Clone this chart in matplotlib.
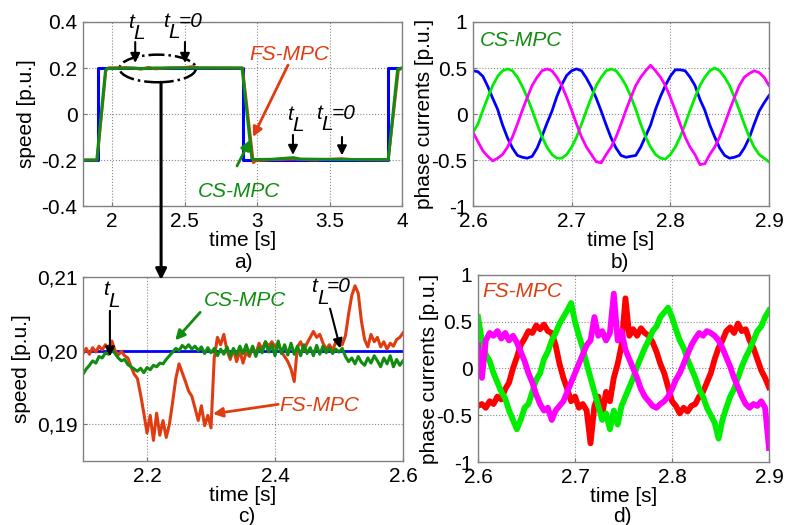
import numpy as np
import matplotlib.pyplot as plt
from matplotlib.patches import Ellipse

plt.rcParams['font.family'] = ['Liberation Sans', 'DejaVu Sans']
plt.rcParams['font.size'] = 15

# Colours used for the two controllers and the three phases
C_REF = '#0000FF'
C_FS = '#E03C12'
C_CS = '#118C11'
C_A = '#FF0000'
C_B = '#00EE00'
C_C = '#FF00FF'

# a) speed transient, reference and measured speeds
ta_ref = [1.8, 1.9, 1.9, 2.9, 2.9, 3.9, 3.9, 4.0]
wa_ref = [-0.2, -0.2, 0.2, 0.2, -0.2, -0.2, 0.2, 0.2]
ta_fs = [1.8, 1.897, 1.958, 1.975, 2.1, 2.16, 2.2, 2.25, 2.3, 2.4, 2.5, 2.55, 2.6, 2.9,
         2.975, 2.99, 3.1, 3.25, 3.4, 3.58, 3.7, 3.905, 3.975, 4.0]
wa_fs = [-0.2, -0.2, 0.19, 0.201, 0.202, 0.198, 0.195, 0.203, 0.196, 0.201, 0.202, 0.206, 0.201, 0.2,
         -0.212, -0.203, -0.199, -0.196, -0.2, -0.194, -0.199, -0.2, 0.19, 0.2]
ta_cs = [1.8, 1.895, 1.955, 1.97, 2.1, 2.15, 2.2, 2.3, 2.5, 2.6, 2.897, 2.965, 2.98, 3.1,
         3.25, 3.3, 3.6, 3.905, 3.97, 4.0]
wa_cs = [-0.2, -0.2, 0.19, 0.198, 0.199, 0.2, 0.197, 0.2, 0.2, 0.2, 0.2, -0.195, -0.198, -0.197,
         -0.19, -0.196, -0.198, -0.198, 0.195, 0.2]

# b) CS-MPC phase currents, sampled every 5 ms from 2.600 s
ib_a = [0.47, 0.46, 0.41, 0.30, 0.17, 0.05, -0.12, -0.26, -0.37, -0.45, -0.47, -0.48, -0.46, -0.37, -0.24,
        -0.10, 0.03, 0.19, 0.32, 0.42, 0.47, 0.49, 0.47, 0.39, 0.29, 0.17, 0.03, -0.12, -0.26, -0.37,
        -0.45, -0.47, -0.46, -0.45, -0.36, -0.24, -0.12, 0.05, 0.19, 0.31, 0.41, 0.48, 0.48, 0.47, 0.40,
        0.31, 0.16, 0.04, -0.12, -0.25, -0.37, -0.45, -0.48, -0.47, -0.45, -0.37, -0.26, -0.11, 0.03,
        0.12, 0.20]
ib_b = [-0.20, -0.11, 0.04, 0.18, 0.31, 0.41, 0.47, 0.49, 0.47, 0.40, 0.30, 0.18, 0.04, -0.11, -0.25,
        -0.36, -0.44, -0.48, -0.48, -0.44, -0.36, -0.25, -0.11, 0.04, 0.18, 0.31, 0.40, 0.47, 0.49,
        0.47, 0.40, 0.31, 0.19, 0.05, -0.11, -0.25, -0.36, -0.44, -0.48, -0.49, -0.44, -0.36, -0.25,
        -0.11, 0.04, 0.18, 0.31, 0.40, 0.47, 0.50, 0.47, 0.40, 0.31, 0.18, 0.04, -0.11, -0.25, -0.36,
        -0.44, -0.48, -0.52]
ib_c = [-0.20, -0.30, -0.40, -0.46, -0.51, -0.48, -0.44, -0.36, -0.25, -0.11, 0.04, 0.18, 0.31, 0.40,
        0.47, 0.49, 0.47, 0.40, 0.31, 0.18, 0.04, -0.11, -0.25, -0.36, -0.44, -0.52, -0.53, -0.44,
        -0.36, -0.25, -0.11, 0.04, 0.18, 0.31, 0.40, 0.47, 0.53, 0.47, 0.40, 0.31, 0.18, 0.04, -0.11,
        -0.25, -0.36, -0.44, -0.55, -0.54, -0.44, -0.36, -0.25, -0.11, 0.04, 0.18, 0.31, 0.40, 0.44,
        0.47, 0.45, 0.40, 0.31]

# c) zoom on the speed during the load step, sampled every 5 ms from 2.100 s
wc_ref = 0.20
wc_fs = [0.1996, 0.2003, 0.1995, 0.2004, 0.1998, 0.2006, 0.2001, 0.2008, 0.2003, 0.2013, 0.2000,
         0.1994, 0.1999, 0.1993, 0.1990, 0.1978, 0.1968, 0.1962, 0.1940, 0.1915, 0.1888, 0.1912,
         0.1878, 0.1915, 0.1885, 0.1905, 0.1882, 0.1900, 0.1930, 0.1962, 0.1982, 0.1970, 0.1958,
         0.1945, 0.1938, 0.1922, 0.1905, 0.1925, 0.1898, 0.1912, 0.1895, 0.1990, 0.2018, 0.2008,
         0.2022, 0.2000, 0.1988, 0.2002, 0.1985, 0.2000, 0.1983, 0.1998, 0.1992, 0.2005, 0.1995,
         0.2010, 0.2002, 0.2012, 0.2006, 0.2012, 0.2005, 0.2010, 0.1998, 0.1992, 0.1985, 0.1975,
         0.1958, 0.2005, 0.2012, 0.2000, 0.2010, 0.2018, 0.2026, 0.2018, 0.2022, 0.2010, 0.2002,
         0.2008, 0.2000, 0.2012, 0.2008, 0.2008, 0.2020, 0.2050, 0.2075, 0.2088, 0.2078, 0.2040,
         0.2015, 0.2005, 0.2022, 0.2012, 0.2018, 0.2005, 0.2012, 0.2002, 0.2010, 0.2006, 0.2015,
         0.2018, 0.2024]
wc_cs = [0.1968, 0.1975, 0.1980, 0.1986, 0.1983, 0.1992, 0.1990, 0.1997, 0.1995, 0.2002, 0.1996,
         0.1990, 0.1986, 0.1988, 0.1981, 0.1978, 0.1975, 0.1972, 0.1976, 0.1970, 0.1977, 0.1974,
         0.1980, 0.1978, 0.1983, 0.1982, 0.1988, 0.1993, 0.1998, 0.2003, 0.2000, 0.2007, 0.2003,
         0.2008, 0.2002, 0.2006, 0.2000, 0.2005, 0.1996, 0.2004, 0.1997, 0.2003, 0.1993, 0.2002,
         0.1995, 0.2005, 0.1992, 0.2003, 0.1994, 0.2006, 0.1996, 0.2008, 0.1995, 0.2006, 0.1992,
         0.2004, 0.1997, 0.2012, 0.1998, 0.2008, 0.1993, 0.2013, 0.1996, 0.2008, 0.1994, 0.2010,
         0.1995, 0.2006, 0.1993, 0.2008, 0.1996, 0.2004, 0.1993, 0.2007, 0.1995, 0.2006, 0.1997,
         0.2004, 0.1996, 0.2002, 0.1998, 0.2003, 0.1992, 0.1985, 0.1990, 0.1982, 0.1992, 0.1984,
         0.1980, 0.1990, 0.1983, 0.1993, 0.1986, 0.1978, 0.1990, 0.1982, 0.1993, 0.1978, 0.1988,
         0.1980, 0.1986]

# d) FS-MPC phase currents, sampled every 4 ms from 2.600 s
id_a = [-0.40, -0.38, -0.42, -0.35, -0.38, -0.30, -0.33, -0.22, -0.15, 0.00, 0.12, 0.25, 0.32, 0.40,
        0.38, 0.46, 0.42, 0.47, 0.40, 0.38, 0.25, 0.05, -0.10, -0.22, -0.35, -0.30, -0.42, -0.38,
        -0.45, -0.80, -0.40, -0.30, -0.50, -0.25, -0.35, -0.10, 0.05, 0.25, 0.75, 0.35, 0.42, 0.35,
        0.43, 0.38, 0.35, 0.28, 0.18, 0.05, -0.05, -0.20, -0.35, -0.40, -0.48, -0.42, -0.46, -0.40,
        -0.38, -0.30, -0.25, -0.15, -0.05, 0.10, 0.22, 0.30, 0.40, 0.44, 0.38, 0.48, 0.40, 0.42,
        0.30, 0.22, 0.10, -0.02, -0.10, -0.20]
id_b = [0.55, 0.30, 0.15, 0.08, -0.05, -0.15, -0.25, -0.32, -0.45, -0.55, -0.65, -0.55, -0.42, -0.38,
        -0.25, -0.12, -0.05, 0.10, 0.18, 0.30, 0.38, 0.48, 0.55, 0.62, 0.70, 0.50, 0.35, 0.22, 0.05,
        -0.10, -0.25, -0.40, -0.55, -0.48, -0.65, -0.45, -0.60, -0.40, -0.30, -0.20, -0.10, 0.02,
        0.12, 0.22, 0.30, 0.40, 0.45, 0.55, 0.60, 0.65, 0.55, 0.42, 0.30, 0.22, 0.10, 0.00, -0.10,
        -0.22, -0.30, -0.42, -0.50, -0.58, -0.75, -0.55, -0.42, -0.30, -0.22, -0.10, 0.02, 0.12,
        0.20, 0.30, 0.40, 0.45, 0.55, 0.62]
id_c = [0.25, -0.10, 0.30, 0.38, 0.35, 0.40, 0.32, 0.38, 0.30, 0.35, 0.28, 0.18, 0.08, -0.05, -0.15,
        -0.28, -0.38, -0.45, -0.42, -0.55, -0.45, -0.40, -0.35, -0.25, -0.15, -0.05, 0.05, 0.15,
        0.25, 0.30, 0.55, 0.35, 0.40, 0.30, 0.38, 0.80, 0.30, 0.40, 0.20, 0.10, 0.00, -0.10, -0.22,
        -0.30, -0.35, -0.40, -0.42, -0.38, -0.35, -0.30, -0.22, -0.12, -0.05, 0.05, 0.15, 0.25,
        0.32, 0.38, 0.35, 0.40, 0.38, 0.35, 0.30, 0.22, 0.12, 0.02, -0.10, -0.20, -0.30, -0.38,
        -0.42, -0.38, -0.40, -0.35, -0.42, -0.85]

tb = np.linspace(2.6, 2.9, len(ib_a))
tc = np.linspace(2.1, 2.6, len(wc_fs))
td = np.linspace(2.6, 2.9, len(id_a))

fig = plt.figure(figsize=(7.87, 5.25), dpi=100)
ax_a = fig.add_axes([0.1055, 0.6076, 0.4053, 0.3505])
ax_b = fig.add_axes([0.601, 0.6076, 0.3761, 0.3505])
ax_c = fig.add_axes([0.1055, 0.1219, 0.4066, 0.3505])
ax_d = fig.add_axes([0.6074, 0.12, 0.3697, 0.3562])


def style(ax):
    ax.grid(True, linestyle=':', color='#888888', lw=0.8)
    ax.tick_params(direction='in', length=3, color='#777777', labelsize=15, pad=4)
    for s in ax.spines.values():
        s.set_color('#808080')
        s.set_linewidth(1.0)
    ax.set_xlabel('time [s]', fontsize=15, labelpad=0)


def t_label(ax, x, y, zero=False):
    # italic t with a dropped L, optionally followed by "=0"
    kw = dict(textcoords='offset points', style='italic', fontsize=15,
              ha='left', va='baseline', color='k', annotation_clip=False)
    ax.annotate('t', (x, y), xytext=(0, 0), **kw)
    ax.annotate('L', (x, y), xytext=(4, -8), **kw)
    if zero:
        ax.annotate('=0', (x, y), xytext=(11, 0), **kw)


def arrow(ax, xy, xytext, color='k', lw=1.5):
    ax.annotate('', xy=xy, xytext=xytext,
                arrowprops=dict(arrowstyle='-|>', color=color, lw=lw, mutation_scale=14,
                                shrinkA=0, shrinkB=0))


# a)
ax_a.plot(ta_ref, wa_ref, color=C_REF, lw=2.2)
ax_a.plot(ta_fs, wa_fs, color=C_FS, lw=2.0)
ax_a.plot(ta_cs, wa_cs, color=C_CS, lw=2.2)
ax_a.set_xlim(1.8, 4)
ax_a.set_ylim(-0.4, 0.4)
ax_a.set_xticks([2, 2.5, 3, 3.5, 4])
ax_a.set_xticklabels(['2', '2.5', '3', '3.5', '4'])
ax_a.set_yticks([-0.4, -0.2, 0, 0.2, 0.4])
ax_a.set_yticklabels(['-0.4', '-0.2', '0', '0.2', '0.4'])
ax_a.set_ylabel('speed [p.u.]', fontsize=15)
style(ax_a)
ax_a.add_patch(Ellipse((2.315, 0.198), 0.527, 0.12, fill=False, ec='k', lw=1.8, ls='-.'))
t_label(ax_a, 2.11, 0.374)
t_label(ax_a, 2.352, 0.378, zero=True)
arrow(ax_a, (2.16, 0.222), (2.16, 0.313))
arrow(ax_a, (2.503, 0.222), (2.503, 0.313))
t_label(ax_a, 3.207, -0.026)
t_label(ax_a, 3.407, -0.02, zero=True)
arrow(ax_a, (3.248, -0.178), (3.248, -0.091))
arrow(ax_a, (3.586, -0.18), (3.586, -0.1))
ax_a.text(3.225, 0.257, 'FS-MPC', color=C_FS, style='italic', fontsize=15, ha='center', va='center')
ax_a.text(2.876, -0.339, 'CS-MPC', color=C_CS, style='italic', fontsize=15, ha='center', va='center')
arrow(ax_a, (2.972, -0.10), (3.214, 0.213), color=C_FS, lw=2)
arrow(ax_a, (2.952, -0.113), (2.862, -0.226), color=C_CS, lw=2)

# b)
ax_b.plot(tb, ib_a, color=C_REF, lw=2.0)
ax_b.plot(tb, ib_b, color=C_B, lw=2.0)
ax_b.plot(tb, ib_c, color=C_C, lw=2.0)
ax_b.set_xlim(2.6, 2.9)
ax_b.set_ylim(-1, 1)
ax_b.set_xticks([2.6, 2.7, 2.8, 2.9])
ax_b.set_yticks([-1, -0.5, 0, 0.5, 1])
ax_b.set_yticklabels(['-1', '-0.5', '0', '0.5', '1'])
ax_b.set_ylabel('phase currents [p.u.]', fontsize=15, labelpad=-2)
style(ax_b)
ax_b.text(2.607, 0.80, 'CS-MPC', color=C_CS, style='italic', fontsize=15, ha='left', va='center')

# c)
ax_c.axhline(wc_ref, color=C_REF, lw=2.0)
ax_c.plot(tc, wc_fs, color=C_FS, lw=2.2)
ax_c.plot(tc, wc_cs, color=C_CS, lw=2.2)
ax_c.set_xlim(2.1, 2.6)
ax_c.set_ylim(0.185, 0.21)
ax_c.set_xticks([2.2, 2.4, 2.6])
ax_c.set_xticklabels(['2.2', '2.4', '2.6'])
ax_c.set_yticks([0.19, 0.20, 0.21])
ax_c.set_yticklabels(['0,19', '0,20', '0,21'])
ax_c.set_ylabel('speed [p.u.]', fontsize=15)
style(ax_c)
t_label(ax_c, 2.131, 0.2075)
arrow(ax_c, (2.142, 0.1992), (2.142, 0.2054))
t_label(ax_c, 2.457, 0.2079, zero=True)
arrow(ax_c, (2.502, 0.2003), (2.486, 0.2057))
ax_c.text(2.353, 0.2068, 'CS-MPC', color=C_CS, style='italic', fontsize=15, ha='center', va='center')
arrow(ax_c, (2.244, 0.2014), (2.283, 0.2052), color=C_CS, lw=2)
ax_c.text(2.470, 0.1925, 'FS-MPC', color=C_FS, style='italic', fontsize=15, ha='center', va='center')
arrow(ax_c, (2.303, 0.1914), (2.405, 0.1927), color=C_FS, lw=2)

# d)
ax_d.plot(td, id_a, color=C_A, lw=4.2)
ax_d.plot(td, id_b, color=C_B, lw=4.2)
ax_d.plot(td, id_c, color=C_C, lw=4.2)
ax_d.set_xlim(2.6, 2.9)
ax_d.set_ylim(-1, 1)
ax_d.set_xticks([2.6, 2.7, 2.8, 2.9])
ax_d.set_yticks([-1, -0.5, 0, 0.5, 1])
ax_d.set_yticklabels(['-1', '-0.5', '0', '0.5', '1'])
ax_d.set_ylabel('phase currents [p.u.]', fontsize=15, labelpad=-2)
style(ax_d)
ax_d.text(2.604, 0.82, 'FS-MPC', color=C_FS, style='italic', fontsize=15, ha='left', va='center')

# link from the ellipse in a) down to the zoomed view c)
ax_c.annotate('', xy=(2.222, 0.2096), xycoords='data',
              xytext=(2.338, 0.138), textcoords=ax_a.transData,
              arrowprops=dict(arrowstyle='-|>', color='k', lw=2.2, mutation_scale=16,
                              shrinkA=0, shrinkB=0), annotation_clip=False)

# panel letters
for x, y, s in [(243, 262, 'a)'), (620, 262, 'b)'), (247, 516, 'c)'), (622, 516, 'd)')]:
    fig.text(x / 787, 1 - y / 525, s, fontsize=15, ha='center', va='center')

fig.savefig('out.png', dpi=100)
